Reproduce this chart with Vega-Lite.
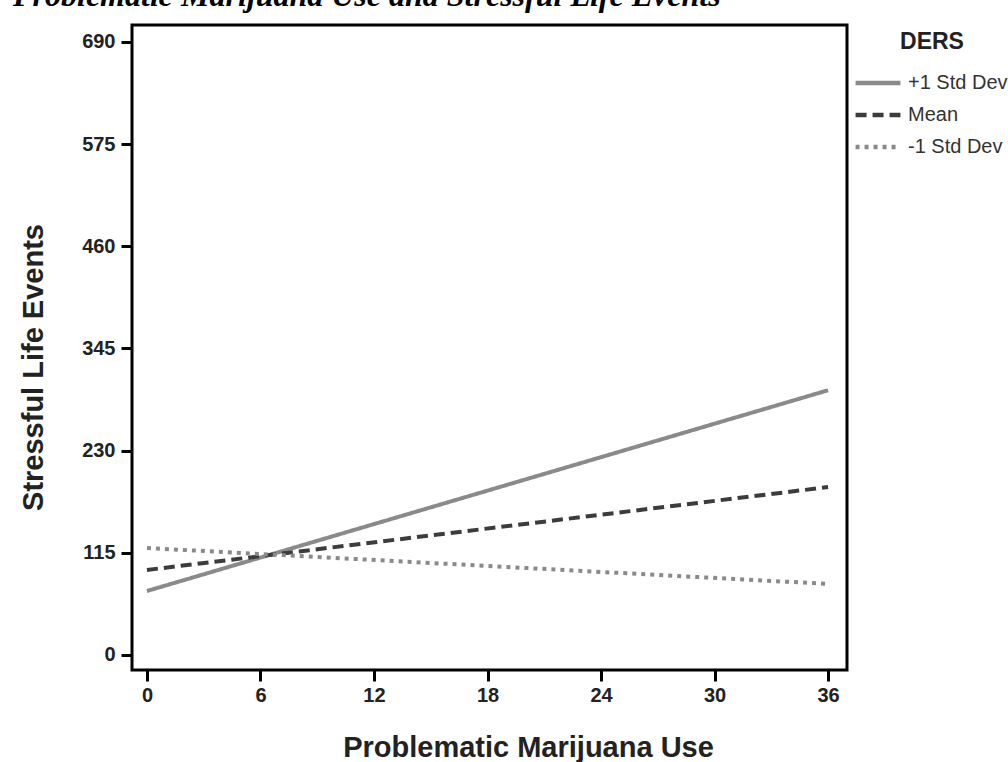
{
  "$schema": "https://vega.github.io/schema/vega-lite/v6.json",
  "width": 715,
  "height": 645,
  "autosize": {"type": "none"},
  "padding": {"left": 132, "top": 25, "right": 161, "bottom": 92},
  "background": "white",
  "title": {
    "text": "Problematic Marijuana Use and Stressful Life Events",
    "anchor": "start",
    "frame": "group",
    "dx": -119,
    "dy": 21,
    "offset": 8,
    "baseline": "alphabetic",
    "font": "Liberation Serif",
    "fontSize": 32,
    "fontStyle": "italic",
    "fontWeight": "bold",
    "color": "black"
  },
  "data": {
    "values": [
      {"use": 0, "ses": 72, "DERS": "+1 Std Dev"},
      {"use": 36, "ses": 298, "DERS": "+1 Std Dev"},
      {"use": 0, "ses": 95.7, "DERS": "Mean"},
      {"use": 36, "ses": 189, "DERS": "Mean"},
      {"use": 0, "ses": 120.4, "DERS": "-1 Std Dev"},
      {"use": 36, "ses": 80, "DERS": "-1 Std Dev"}
    ]
  },
  "mark": {"type": "line", "strokeWidth": 4},
  "encoding": {
    "x": {
      "field": "use",
      "type": "quantitative",
      "scale": {"domain": [-0.79, 37.0], "nice": false, "zero": false},
      "axis": {
        "values": [0, 6, 12, 18, 24, 30, 36],
        "title": "Problematic Marijuana Use",
        "labelPadding": 4,
        "titleX": 396,
        "titleY": 77,
        "titleBaseline": "middle",
        "titleAnchor": "middle"
      }
    },
    "y": {
      "field": "ses",
      "type": "quantitative",
      "scale": {"domain": [-16.9, 709.1], "nice": false, "zero": false},
      "axis": {
        "values": [0, 115, 230, 345, 460, 575, 690],
        "title": "Stressful Life Events",
        "labelPadding": 6,
        "titleX": -99,
        "titleY": 342,
        "titleBaseline": "middle",
        "titleAnchor": "middle",
        "titleAngle": -90
      }
    },
    "color": {
      "field": "DERS",
      "type": "nominal",
      "scale": {"domain": ["+1 Std Dev", "Mean", "-1 Std Dev"], "range": ["#8a8a8a", "#3c3c3c", "#8a8a8a"]},
      "legend": {"title": "DERS"}
    },
    "strokeDash": {
      "field": "DERS",
      "type": "nominal",
      "scale": {"domain": ["+1 Std Dev", "Mean", "-1 Std Dev"], "range": [[1, 0], [11, 6], [4, 5]]},
      "legend": {"title": "DERS"}
    }
  },
  "config": {
    "view": {"stroke": "black", "strokeWidth": 3},
    "axis": {
      "domain": false,
      "grid": false,
      "ticks": true,
      "tickColor": "black",
      "tickWidth": 3,
      "tickSize": 11,
      "labelFont": "Liberation Sans",
      "labelFontSize": 20,
      "labelFontWeight": "bold",
      "labelColor": "#222222",
      "titleFont": "Liberation Sans",
      "titleFontSize": 29,
      "titleFontWeight": "bold",
      "titleColor": "#222222"
    },
    "legend": {
      "orient": "none",
      "legendX": 724,
      "legendY": 6,
      "titleAnchor": "middle",
      "titleFont": "Liberation Sans",
      "titleFontSize": 23,
      "titleFontWeight": "bold",
      "titleColor": "#222222",
      "titlePadding": 7,
      "labelFont": "Liberation Sans",
      "labelFontSize": 20,
      "labelColor": "#333333",
      "labelOffset": 8,
      "symbolType": "M-1.14,0H1.14",
      "symbolStrokeWidth": 4.5,
      "symbolSize": 1550,
      "rowPadding": 0
    }
  }
}
